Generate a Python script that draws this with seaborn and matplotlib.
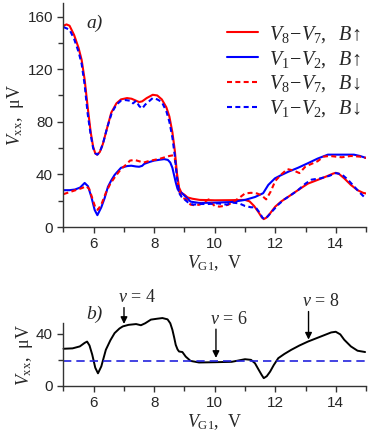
import matplotlib
matplotlib.use("Agg")
import matplotlib.pyplot as plt
import seaborn as sns

# curves: gate voltage (V) vs Vxx (uV)
red_up_x = [5.0, 5.1, 5.2, 5.35, 5.5, 5.6, 5.7, 5.81, 5.9, 5.98, 6.05, 6.11, 6.2, 6.3, 6.45, 6.58,
            6.75, 6.9, 7.1, 7.25, 7.4, 7.5, 7.6, 7.75, 7.95, 8.1, 8.25, 8.4, 8.5, 8.6, 8.68, 8.75,
            8.82, 8.9, 9.0, 9.1, 9.26, 9.5, 9.7, 10.0, 10.5, 11.0, 11.15, 11.3, 11.44, 11.55, 11.62,
            11.7, 11.8, 12.0, 12.2, 12.43, 12.75, 13.08, 13.4, 13.74, 13.9, 14.0, 14.1, 14.28, 14.5,
            14.72, 14.9, 15.0]
red_up_y = [153, 154, 153, 146, 136, 127, 112, 89, 72, 61, 56, 55, 57, 63, 76, 87,
            94, 97, 98, 97.5, 96, 95, 95.5, 98, 100.5, 100, 97, 91, 84, 72, 58, 41,
            30, 26, 24.5, 22.5, 21.5, 20.6, 20.5, 20.3, 20.4, 20.6, 19.5, 16, 11.5, 7.5, 6,
            7, 9.5, 15.5, 19.5, 23, 28, 33, 35.8, 38.9, 40.5, 41.2, 40.5, 37, 32,
            28, 26, 25.5]

blue_up_x = [5.0, 5.2, 5.38, 5.55, 5.7, 5.81, 5.92, 6.03, 6.12, 6.25, 6.36, 6.47, 6.58, 6.69, 6.9,
             7.1, 7.24, 7.4, 7.5, 7.6, 7.67, 7.85, 8.0, 8.2, 8.33, 8.45, 8.53, 8.6, 8.66, 8.71,
             8.77, 8.82, 8.9, 9.04, 9.2, 9.48, 10.0, 10.56, 11.0, 11.33, 11.6, 11.77, 11.99, 12.2,
             12.43, 12.75, 13.08, 13.4, 13.74, 14.0, 14.4, 14.6, 14.8, 15.0]
blue_up_y = [28, 28, 28.5, 30, 33.5, 31, 23, 13, 9, 15, 22, 30.6, 35.5, 39.6, 45,
             46.3, 46.6, 46, 45.8, 46.5, 48, 49.5, 50.5, 51.2, 51.6, 51, 49, 45, 39, 34,
             29, 27, 26, 23, 19.3, 18.3, 18.5, 19, 20.6, 22.8, 25.7, 32, 37, 39.5,
             42, 45, 48.5, 52, 55, 55, 55, 55, 54, 52.5]

red_down_x = [5.0, 5.2, 5.4, 5.6, 5.75, 5.85, 5.95, 6.05, 6.13, 6.25, 6.4, 6.55, 6.7, 6.9, 7.05,
              7.2, 7.35, 7.5, 7.65, 7.8, 8.0, 8.2, 8.35, 8.5, 8.62, 8.68, 8.74, 8.8, 8.88, 8.95,
              9.05, 9.2, 9.35, 9.5, 9.65, 9.8, 9.9, 10.0, 10.15, 10.3, 10.45, 10.6, 10.8, 11.0,
              11.2, 11.4, 11.55, 11.7, 11.85, 12.0, 12.2, 12.4, 12.6, 12.8, 13.0, 13.2, 13.4,
              13.6, 13.8, 14.0, 14.2, 14.5, 14.8, 15.0]
red_down_y = [25, 26.5, 28, 29.5, 31, 29, 22, 15, 13, 17, 26, 33, 38, 44, 47,
              50.5, 51, 50, 49, 50, 51, 52, 53, 54, 54.5, 52, 40, 30, 24, 22,
              21, 17, 16.5, 17, 19, 21, 18, 16, 15.5, 16, 17, 19, 22, 25.5,
              26, 25.5, 24, 21, 27, 35, 40, 44, 43, 41, 46, 48, 50,
              53.5, 54, 53.5, 53, 54, 53.5, 52.5]

blue_down_x = [5.0, 5.1, 5.2, 5.35, 5.5, 5.6, 5.7, 5.8, 5.9, 5.98, 6.05, 6.12, 6.2, 6.3, 6.45,
               6.6, 6.75, 6.9, 7.05, 7.2, 7.3, 7.4, 7.5, 7.6, 7.7, 7.8, 7.95, 8.1, 8.25, 8.4,
               8.5, 8.6, 8.68, 8.75, 8.82, 8.9, 9.0, 9.15, 9.3, 9.5, 9.8, 10.1, 10.4, 10.6, 10.8,
               11.0, 11.2, 11.35, 11.48, 11.58, 11.65, 11.75, 11.9, 12.1, 12.3, 12.5, 12.75, 13.0,
               13.2, 13.5, 13.8, 14.0, 14.2, 14.4, 14.6, 14.8, 15.0]
blue_down_y = [152, 151, 150, 143, 133, 124, 108, 86, 70, 60, 56, 55, 57, 63, 76,
               87, 93, 96, 96.5, 96, 94, 96, 92, 90, 93, 95, 98, 97, 95, 88,
               80, 68, 54, 38, 26, 23, 21, 18, 17, 17.5, 17.5, 18, 17, 18.5, 18,
               16, 15, 15, 11, 7, 6, 8, 12, 17, 21, 24, 28, 33,
               36, 37, 39, 41, 40, 36, 31, 26, 21.5]

# panel b
b_x = [5.0, 5.3, 5.54, 5.7, 5.78, 5.86, 5.95, 6.05, 6.14, 6.25, 6.4, 6.55, 6.69, 6.85, 6.96,
       7.15, 7.4, 7.56, 7.7, 7.89, 8.1, 8.27, 8.44, 8.53, 8.6, 8.66, 8.71, 8.77, 8.82, 8.93,
       9.04, 9.2, 9.48, 10.0, 10.56, 11.0, 11.2, 11.33, 11.45, 11.55, 11.62, 11.72, 11.83, 11.95,
       12.1, 12.3, 12.53, 12.8, 13.08, 13.3, 13.52, 13.85, 14.0, 14.15, 14.28, 14.5, 14.72, 14.97]
b_y = [28.5, 28.8, 30.3, 33, 34, 31, 24, 14, 9.7, 15, 27.7, 35, 40.5, 44, 45.6,
       46.8, 47.4, 46.5, 48, 50.8, 51.5, 52, 51, 48, 43, 37, 31.5, 28, 26.4, 26,
       22.5, 19.2, 18, 18.2, 18.5, 20.5, 20, 17.4, 12.5, 8.5, 6, 7.5, 11, 16,
       21.3, 24.5, 27.7, 31, 34, 36, 38, 41, 41.5, 39.5, 35.4, 30.3, 27, 26]
b_level = 19.5

nu_labels = [r"$\nu$ = 4", r"$\nu$ = 6", r"$\nu$ = 8"]
nu_x = [7.0, 10.04, 13.1]
nu_tip = [47.5, 21.5, 35.5]
nu_tail = [60, 43.5, 57]
nu_text_y = [61.5, 44.5, 58.5]

legend_labels = [r"$V_8\!-\!V_7,\ \ B\!\uparrow$", r"$V_1\!-\!V_2,\ \ B\!\uparrow$",
                 r"$V_8\!-\!V_7,\ \ B\!\downarrow$", r"$V_1\!-\!V_2,\ \ B\!\downarrow$"]

sns.set_style("ticks")
plt.rcParams["font.family"] = ["Liberation Sans", "DejaVu Sans"]
plt.rcParams["mathtext.fontset"] = "custom"
plt.rcParams["mathtext.rm"] = "Liberation Serif"
plt.rcParams["mathtext.it"] = "Liberation Serif:italic"
plt.rcParams["mathtext.bf"] = "Liberation Serif:bold"

serif = ["Liberation Serif", "DejaVu Serif"]
dash = (0, (2.4, 1.6))

fig = plt.figure(figsize=(3.70, 4.42), dpi=100)
ax1 = fig.add_axes([0.1716, 0.4864, 0.8176, 0.506])
ax2 = fig.add_axes([0.1716, 0.1267, 0.8176, 0.1419])

sns.lineplot(x=red_up_x, y=red_up_y, ax=ax1, color="red", lw=1.5, sort=False, label=legend_labels[0])
sns.lineplot(x=blue_up_x, y=blue_up_y, ax=ax1, color="blue", lw=1.5, sort=False, label=legend_labels[1])
sns.lineplot(x=red_down_x, y=red_down_y, ax=ax1, color="red", lw=1.5, linestyle=dash, sort=False,
             label=legend_labels[2])
sns.lineplot(x=blue_down_x, y=blue_down_y, ax=ax1, color="blue", lw=1.5, linestyle=dash, sort=False,
             label=legend_labels[3])

ax1.legend(loc="upper right", bbox_to_anchor=(1.01, 0.945), frameon=False, prop={"size": 14.5},
           handlelength=1.55, handletextpad=0.55, labelspacing=0.2, borderaxespad=0)
ax1.text(5.75, 155, "a)", fontfamily=serif, fontstyle="italic", fontsize=14, va="center")

sns.lineplot(x=b_x, y=b_y, ax=ax2, color="black", lw=1.4, sort=False)
for ln in ax2.lines:
    ln.set_clip_on(False)
ax2.axhline(b_level, color="#2222dd", lw=1.2, linestyle=(0, (5, 3)))
ax2.text(5.75, 54.5, "b)", fontfamily=serif, fontstyle="italic", fontsize=14, va="center")
for lab, x, tip, tail, ty in zip(nu_labels, nu_x, nu_tip, nu_tail, nu_text_y):
    ax2.annotate("", xy=(x, tip), xytext=(x, tail), annotation_clip=False,
                 arrowprops=dict(arrowstyle="-|>", color="black", lw=1.0, mutation_scale=10,
                                 shrinkA=0, shrinkB=0))
    ax2.text(x - 0.2, ty, lab, fontfamily=serif, fontsize=13, ha="left", va="bottom", clip_on=False)

for ax, top in [(ax1, 170), (ax2, 48)]:
    ax.set_xlim(5, 15)
    ax.set_ylim(0, top)
    sns.despine(ax=ax)
    ax.set_xticks([6, 8, 10, 12, 14])
    ax.set_xticks([5, 7, 9, 11, 13, 15], minor=True)
    ax.tick_params(which="both", direction="out", labelsize=11, width=1, color="#333333")
    ax.tick_params(which="major", length=4)
    ax.tick_params(which="minor", length=3.5)
    for s in ["left", "bottom"]:
        ax.spines[s].set_linewidth(1.0)
        ax.spines[s].set_color("#333333")
    ax.set_xlabel(r"$V_{\rm G1}$,  V", fontfamily=serif, fontsize=13, labelpad=1)
    ax.set_ylabel(r"$V_{\rm xx}$,  μV", fontfamily=serif, fontsize=13, labelpad=1)

ax1.set_yticks([0, 40, 80, 120, 160])
ax1.set_yticks([20, 60, 100, 140], minor=True)
ax2.set_yticks([0, 40])
ax2.set_yticks([20], minor=True)

fig.savefig("out.png", dpi=100)
